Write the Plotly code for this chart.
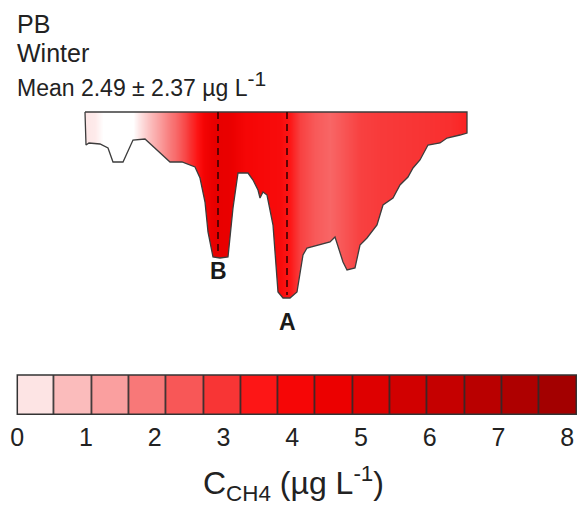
import plotly.graph_objects as go

# ---- data -------------------------------------------------------------
# bottom profile of the cross-section (distance along section, depth below surface)
profile_dist = [0, 1, 4, 15, 23, 28, 38, 48, 60, 85, 97, 110, 115, 120, 123, 128, 135, 143,
                148, 153, 163, 168, 173, 175, 178, 182, 188, 193, 198, 205, 212, 218, 222,
                245, 250, 258, 262, 270, 275, 282, 292, 298, 308, 315, 323, 328, 335, 343,
                355, 362, 375, 382, 382]
profile_depth = [0, 33, 31, 32, 36, 50, 50, 28, 27, 50, 50, 55, 66, 90, 120, 145, 146, 145,
                 96, 61, 61, 68, 78, 86, 80, 83, 113, 180, 186, 186, 180, 143, 136,
                 130, 125, 150, 158, 156, 133, 126, 113, 93, 86, 73, 65, 56, 48, 33,
                 31, 26, 23, 21, 0]

# CH4 concentration sampled along the section (µg/L)
conc_dist = [0, 10, 18, 48, 55, 65, 75, 90, 100, 110, 120, 130, 145, 160, 175, 195, 205,
             215, 230, 245, 260, 275, 295, 335, 365, 382]
conc_val = [0.25, 0.2, 0.0, 0.0, 0.3, 0.8, 1.4, 2.1, 2.7, 3.4, 4.3, 4.8, 4.7, 4.1, 4.0, 3.9,
            3.5, 2.8, 2.4, 2.2, 2.5, 2.8, 2.9, 3.0, 3.1, 3.3]

# sampling stations
station_names = ["B", "A"]
station_dist = [133, 202]
station_depth = [141, 183]
label_depth = [159, 210]

# colour classes
n_classes = 15
c_max = 8.14
tick_vals = [0, 1, 2, 3, 4, 5, 6, 7, 8]

colorscale = [
    [0.000, "#ffffff"], [0.033, "#fde4e4"], [0.100, "#fbbcbc"], [0.167, "#fa9f9f"],
    [0.233, "#f87878"], [0.300, "#f85757"], [0.367, "#f83535"], [0.433, "#fd1616"],
    [0.500, "#f60606"], [0.567, "#ec0000"], [0.633, "#de0000"], [0.700, "#d10000"],
    [0.767, "#c50000"], [0.833, "#b90000"], [0.900, "#ae0000"], [0.967, "#a30000"],
    [1.000, "#9e0000"],
]

FONT = "Liberation Sans, Arial, sans-serif"

# ---- derived ----------------------------------------------------------
max_depth = max(profile_depth)
class_w = c_max / n_classes
class_edges = [i * class_w for i in range(n_classes + 1)]
class_mid = [(i + 0.5) * class_w for i in range(n_classes)]

fig = go.Figure()

# gradient of concentration filling the section
fig.add_trace(go.Heatmap(
    x=conc_dist, y=[0, max_depth / 2, max_depth],
    z=[conc_val, conc_val],
    zmin=0, zmax=c_max, colorscale=colorscale, zsmooth="best",
    showscale=False, hoverinfo="skip", xaxis="x", yaxis="y"))

# white mask outside the section
left_pad, right_pad, bottom_pad = -25, max(profile_dist) + 25, max_depth + 25
mask_x = profile_dist + [right_pad, right_pad, left_pad, left_pad, profile_dist[0]]
mask_y = profile_depth + [0, bottom_pad, bottom_pad, 0, 0]
fig.add_trace(go.Scatter(x=mask_x, y=mask_y, fill="toself", fillcolor="white",
                         mode="lines", line=dict(width=0), hoverinfo="skip",
                         showlegend=False, xaxis="x", yaxis="y"))

# outline
fig.add_trace(go.Scatter(x=profile_dist + [profile_dist[0]], y=profile_depth + [profile_depth[0]],
                         mode="lines", line=dict(color="#3c3c3c", width=1.3),
                         hoverinfo="skip", showlegend=False, xaxis="x", yaxis="y"))

# stations: dashed verticals and labels
for name, d, dep, ld in zip(station_names, station_dist, station_depth, label_depth):
    fig.add_trace(go.Scatter(x=[d, d], y=[0, dep], mode="lines",
                             line=dict(color="#3a0000", width=1.6, dash="7px,5px"),
                             hoverinfo="skip", showlegend=False, xaxis="x", yaxis="y"))
    fig.add_annotation(x=d, y=ld, xref="x", yref="y", text="<b>%s</b>" % name,
                       showarrow=False, font=dict(family=FONT, size=23, color="#1a1a1a"))

# colour bar
fig.add_trace(go.Heatmap(
    x=class_edges, y=[0, 1], z=[class_mid],
    zmin=0, zmax=c_max, colorscale=colorscale, xgap=1.6,
    showscale=False, hoverinfo="skip", xaxis="x2", yaxis="y2"))

fig.add_shape(type="rect", xref="x2", yref="y2 domain", x0=class_edges[0], x1=class_edges[-1],
              y0=0, y1=1, fillcolor="#2b2b2b", line=dict(width=0), layer="below")

W, H = 577, 505
bar_left_px, px_per_unit = 17.3, 68.75
bar_top_px, bar_bot_px = 375, 414.3

fig.update_layout(
    width=W, height=H, margin=dict(l=0, r=0, t=0, b=0),
    paper_bgcolor="white", plot_bgcolor="rgba(0,0,0,0)",
    showlegend=False,
    xaxis=dict(domain=[0, 1], range=[-85, W - 85], visible=False, fixedrange=True),
    yaxis=dict(domain=[0, 1], range=[H - 112, -112], visible=False, fixedrange=True),
    xaxis2=dict(domain=[0, 1], anchor="y2",
                range=[-bar_left_px / px_per_unit, (W - bar_left_px) / px_per_unit],
                showline=False, showgrid=False, zeroline=False, tickvals=tick_vals, ticks="",
                ticklabelstandoff=6,
                tickfont=dict(family=FONT, size=25, color="#222222")),
    yaxis2=dict(domain=[1 - bar_bot_px / H, 1 - bar_top_px / H], anchor="x2", range=[0, 1],
                showline=False, showgrid=False, zeroline=False, showticklabels=False, ticks=""),
)

# border of the colour bar
fig.add_shape(type="rect", xref="x2", yref="y2 domain", x0=class_edges[0], x1=class_edges[-1],
              y0=0, y1=1, fillcolor="rgba(0,0,0,0)", line=dict(color="#333333", width=1.5),
              layer="above")

# titles
fig.add_annotation(x=0.026, y=1 - 24 / H, xref="paper", yref="paper", xanchor="left",
                   yanchor="middle", text="PB", showarrow=False,
                   font=dict(family=FONT, size=25, color="#222222"))
fig.add_annotation(x=0.026, y=1 - 53 / H, xref="paper", yref="paper", xanchor="left",
                   yanchor="middle", text="Winter", showarrow=False,
                   font=dict(family=FONT, size=25, color="#222222"))
fig.add_annotation(x=0.026, y=1 - 84 / H, xref="paper", yref="paper", xanchor="left",
                   yanchor="middle",
                   text="Mean 2.49 ± 2.37 µg L<sup><span style=\"font-size:21px\">-1</span></sup>",
                   showarrow=False,
                   font=dict(family=FONT, size=23, color="#222222"))
fig.add_annotation(x=293.5 / W, y=1 - 483 / H, xref="paper", yref="paper", xanchor="center",
                   yanchor="middle", text="C<sub>CH4</sub> (µg L<sup>-1</sup>)", showarrow=False,
                   font=dict(family=FONT, size=32, color="#222222"))

fig.write_html("out.html")
